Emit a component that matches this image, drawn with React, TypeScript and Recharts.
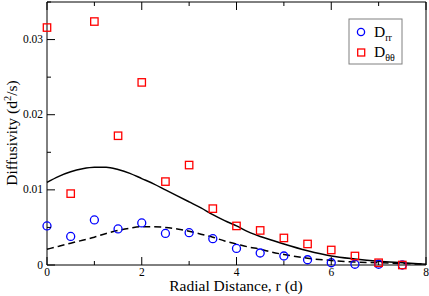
import { ComposedChart, Line, Scatter, XAxis, YAxis, Label } from 'recharts';

// measured points
const rPts = [0, 0.5, 1, 1.5, 2, 2.5, 3, 3.5, 4, 4.5, 5, 5.5, 6, 6.5, 7, 7.5];
const dRR = [0.0052, 0.0038, 0.0060, 0.0048, 0.0056, 0.0042, 0.0043, 0.0035, 0.0022, 0.0016, 0.0012, 0.0007, 0.0003, 0.0001, 0.0001, 0.0];
const dTT = [0.0316, 0.0095, 0.0324, 0.0172, 0.0243, 0.0111, 0.0133, 0.0075, 0.0052, 0.0046, 0.0036, 0.0028, 0.0020, 0.0012, 0.0003, 0.0];

// model curves
const rCurve = [0, 0.25, 0.5, 0.75, 1, 1.25, 1.5, 1.75, 2, 2.25, 2.5, 2.75, 3, 3.25, 3.5, 3.75, 4, 4.25, 4.5, 4.75, 5, 5.5, 6, 6.5, 7, 7.5, 8];
const solidFit = [0.0110, 0.0118, 0.0124, 0.0128, 0.0130, 0.0130, 0.0127, 0.0122, 0.0115, 0.0108, 0.0100, 0.0092, 0.0084, 0.0076, 0.0067, 0.0059, 0.0052, 0.0044, 0.0038, 0.0033, 0.0028, 0.0019, 0.0012, 0.0008, 0.0005, 0.0003, 0.0001];
const dashedFit = [0.0021, 0.0025, 0.0029, 0.0033, 0.0037, 0.0042, 0.0046, 0.0049, 0.0051, 0.0051, 0.0050, 0.0048, 0.0045, 0.0041, 0.0037, 0.0032, 0.0028, 0.0024, 0.0021, 0.0017, 0.0014, 0.0009, 0.0006, 0.0004, 0.0003, 0.0002, 0.0001];

const xTicks = [0, 1, 2, 3, 4, 5, 6, 7, 8];
const yTicks = [0, 0.005, 0.01, 0.015, 0.02, 0.025, 0.03, 0.035];

const curveRows = rCurve.map((r, i) => ({ r, solid: solidFit[i], dashed: dashedFit[i] }));
const rrRows = rPts.map((r, i) => ({ r, v: dRR[i] }));
const ttRows = rPts.map((r, i) => ({ r, v: dTT[i] }));

const FONT = '"Liberation Serif", "Times New Roman", serif';
const txt = { fontFamily: FONT };

const isMajorY = (v: number) => Math.abs(v / 0.01 - Math.round(v / 0.01)) < 1e-6;
const fmtY = (v: number) => (v === 0 ? '0' : v.toFixed(2));

function YTick(props: any) {
  const { x, y, payload, side } = props;
  const major = isMajorY(payload.value);
  const len = major ? 8 : 4;
  const dir = side === 'left' ? 1 : -1;
  return (
    <g>
      <line x1={x} x2={x + dir * len} y1={y} y2={y} stroke="#000" strokeWidth={1} />
      {side === 'left' && major && (
        <text x={x - 4} y={y + 3.5} textAnchor="end" fontSize={11.5} style={txt} fill="#000">
          {fmtY(payload.value)}
        </text>
      )}
    </g>
  );
}

function XTick(props: any) {
  const { x, y, payload, side } = props;
  const major = payload.value % 2 === 0;
  const len = major ? 8 : 4;
  const dir = side === 'bottom' ? -1 : 1;
  return (
    <g>
      <line x1={x} x2={x} y1={y} y2={y + dir * len} stroke="#000" strokeWidth={1} />
      {side === 'bottom' && major && (
        <text x={x} y={y + 11} textAnchor="middle" fontSize={11.5} style={txt} fill="#000">
          {payload.value}
        </text>
      )}
    </g>
  );
}

const circleShape = (p: any) => (
  <circle cx={p.cx} cy={p.cy} r={4} fill="none" stroke="#0000ff" strokeWidth={1.3} />
);
const squareShape = (p: any) => (
  <rect x={p.cx - 3.7} y={p.cy - 3.7} width={7.4} height={7.4} fill="none" stroke="#ff0000" strokeWidth={1.3} />
);

export default function App() {
  return (
    <div style={{ position: 'absolute', left: 0, top: 0, width: 429, height: 296, background: '#fff' }}>
      <ComposedChart width={429} height={296} data={curveRows} margin={{ top: 1, right: 2, bottom: 0, left: 0 }}>
        <XAxis
          dataKey="r" type="number" domain={[0, 8]} ticks={xTicks} interval={0}
          height={31} tickSize={0} tickMargin={0} tickLine={false}
          axisLine={{ stroke: '#000' }}
          tick={(p: any) => <XTick {...p} side="bottom" />}
        >
          <Label
            content={() => (
              <text x={236} y={291} textAnchor="middle" fontSize={15.5} style={txt} fill="#000">
                Radial Distance, r (d)
              </text>
            )}
          />
        </XAxis>
        <XAxis
          xAxisId="top" orientation="top" dataKey="r" type="number" domain={[0, 8]} ticks={xTicks} interval={0}
          height={1} tickSize={0} tickMargin={0} tickLine={false}
          axisLine={{ stroke: '#000' }}
          tick={(p: any) => <XTick {...p} side="top" />}
        />
        <YAxis
          type="number" domain={[0, 0.035]} ticks={yTicks} interval={0}
          width={47} tickSize={0} tickMargin={0} tickLine={false}
          axisLine={{ stroke: '#000' }}
          tick={(p: any) => <YTick {...p} side="left" />}
        >
          <Label
            content={() => (
              <text
                x={0} y={0} transform="translate(17,133) rotate(-90)" textAnchor="middle"
                fontSize={15.5} style={txt} fill="#000"
              >
                Diffusivity (d<tspan dy={-6} fontSize={10.5}>2</tspan><tspan dy={6}>/s)</tspan>
              </text>
            )}
          />
        </YAxis>
        <YAxis
          yAxisId="right" orientation="right" type="number" domain={[0, 0.035]} ticks={yTicks} interval={0}
          width={1} tickSize={0} tickMargin={0} tickLine={false}
          axisLine={{ stroke: '#000' }}
          tick={(p: any) => <YTick {...p} side="right" />}
        />
        <Line
          type="monotone" dataKey="solid" stroke="#000" strokeWidth={1.5}
          dot={false} activeDot={false} isAnimationActive={false}
        />
        <Line
          type="monotone" dataKey="dashed" stroke="#000" strokeWidth={1.5} strokeDasharray="7 4"
          dot={false} activeDot={false} isAnimationActive={false}
        />
        <Scatter data={rrRows} dataKey="v" shape={circleShape} isAnimationActive={false} />
        <Scatter data={ttRows} dataKey="v" shape={squareShape} isAnimationActive={false} />
      </ComposedChart>
      <svg
        width={56} height={48}
        style={{ position: 'absolute', left: 348, top: 18, overflow: 'visible' }}
      >
        <rect x={1} y={1} width={53} height={45} fill="#fff" stroke="#808080" strokeWidth={1} />
        <circle cx={13} cy={14} r={3.6} fill="none" stroke="#0000ff" strokeWidth={1.3} />
        <text x={26} y={19} fontSize={15.5} style={txt} fill="#000">
          D<tspan dy={4} fontSize={10}>rr</tspan>
        </text>
        <rect x={9.7} y={31} width={7} height={7} fill="none" stroke="#ff0000" strokeWidth={1.3} />
        <text x={26} y={39} fontSize={15.5} style={txt} fill="#000">
          D<tspan dy={4} fontSize={10}>θθ</tspan>
        </text>
      </svg>
    </div>
  );
}
